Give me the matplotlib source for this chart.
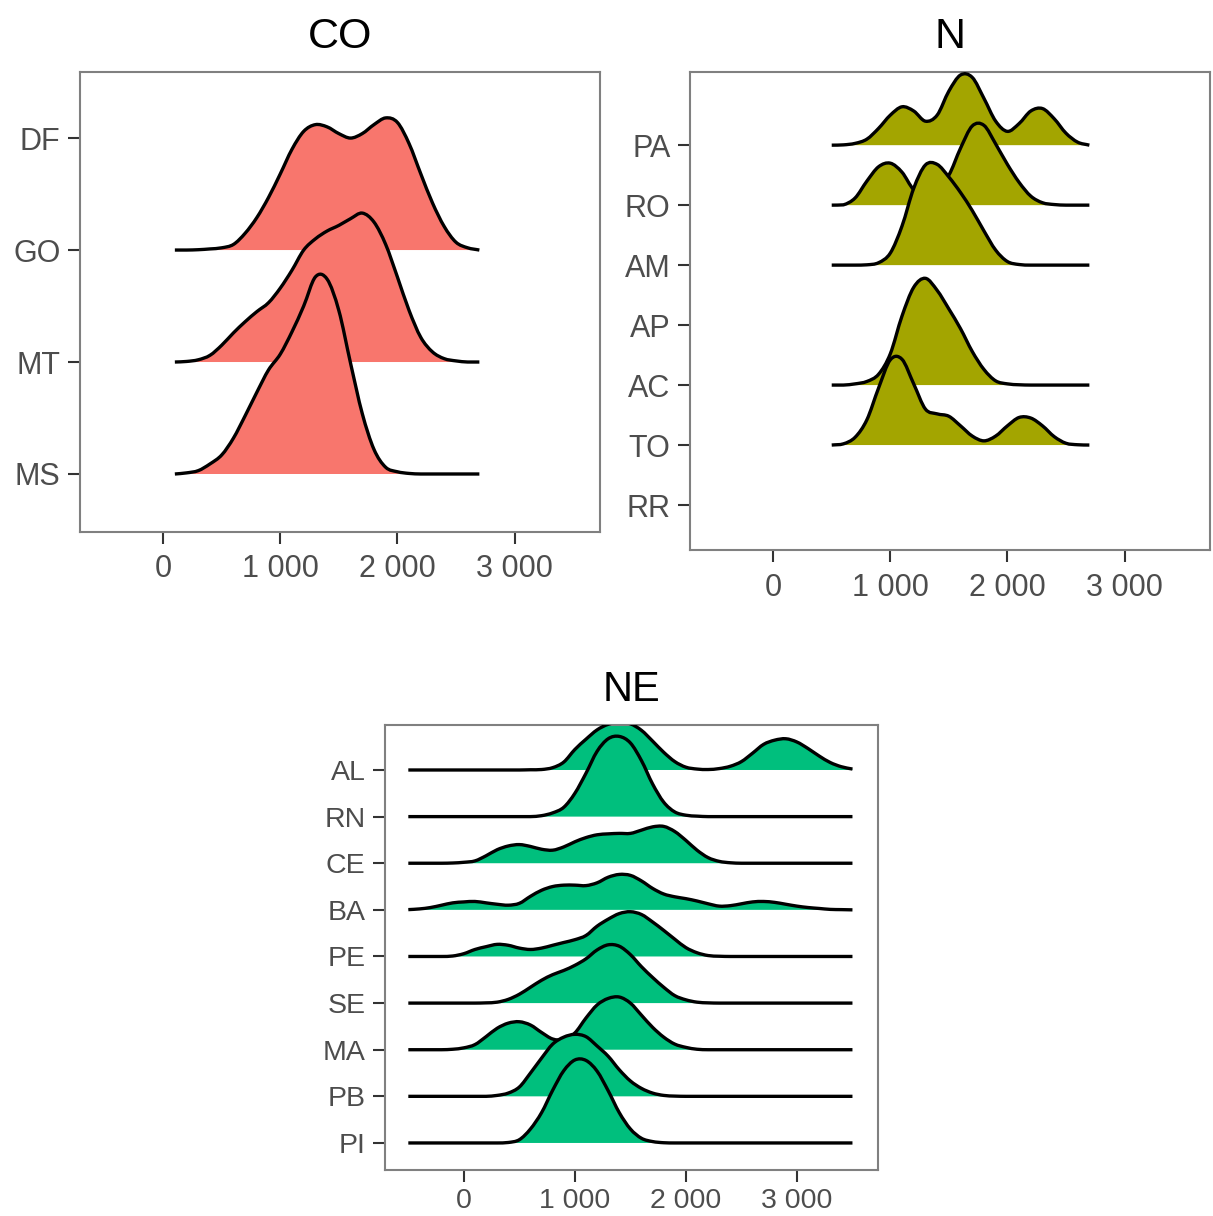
import matplotlib
matplotlib.use("Agg")
import matplotlib.pyplot as plt
from matplotlib.path import Path
from matplotlib.patches import PathPatch
import numpy as np

plt.rcParams['font.family'] = ['Liberation Sans', 'DejaVu Sans']

# ---- data: ridge heights, in units of one row ----
# CO (rows listed top to bottom, DF has no ridge)
co_rows = ['DF', 'GO', 'MT', 'MS']
co_x = [100, 200, 300, 400, 500, 600, 700, 800, 900, 1000, 1100, 1200, 1300, 1400,
        1500, 1600, 1700, 1800, 1900, 2000, 2100, 2200, 2300, 2400, 2500, 2600, 2700]
co_go = [0, 0, 0.003, 0.01, 0.02, 0.05, 0.15, 0.29, 0.47, 0.68, 0.90, 1.06, 1.12, 1.10,
         1.04, 1.00, 1.04, 1.12, 1.18, 1.14, 0.95, 0.68, 0.42, 0.21, 0.07, 0.02, 0]
co_mt = [0, 0.005, 0.02, 0.06, 0.15, 0.26, 0.36, 0.45, 0.53, 0.66, 0.82, 1.00, 1.10, 1.17,
         1.22, 1.28, 1.33, 1.25, 1.05, 0.76, 0.46, 0.22, 0.09, 0.03, 0.01, 0, 0]
co_ms = [0, 0.01, 0.03, 0.09, 0.17, 0.32, 0.52, 0.73, 0.93, 1.07, 1.27, 1.50, 1.76, 1.74,
         1.46, 0.99, 0.54, 0.22, 0.06, 0.02, 0.005, 0, 0, 0, 0, 0, 0]

# N (AP and RR have no ridge)
n_rows = ['PA', 'RO', 'AM', 'AP', 'AC', 'TO', 'RR']
n_x = [500, 600, 700, 800, 900, 1000, 1100, 1200, 1300, 1400, 1500, 1600,
       1700, 1800, 1900, 2000, 2100, 2200, 2300, 2400, 2500, 2600, 2700]
n_pa = [0, 0.005, 0.03, 0.10, 0.28, 0.50, 0.64, 0.57, 0.40, 0.50, 0.90, 1.17,
        1.13, 0.78, 0.40, 0.23, 0.36, 0.57, 0.61, 0.44, 0.20, 0.05, 0]
n_ro = [0, 0.005, 0.12, 0.40, 0.64, 0.70, 0.55, 0.26, 0.20, 0.30, 0.50, 0.95,
        1.32, 1.33, 1.02, 0.68, 0.38, 0.15, 0.04, 0.01, 0, 0, 0]
n_am = [0, 0, 0, 0.005, 0.04, 0.20, 0.65, 1.28, 1.67, 1.68, 1.47, 1.21,
        0.91, 0.57, 0.25, 0.06, 0.01, 0, 0, 0, 0, 0, 0]
n_ac = [0, 0, 0.02, 0.06, 0.18, 0.52, 1.15, 1.63, 1.78, 1.58, 1.27, 0.94,
        0.56, 0.26, 0.07, 0.02, 0.005, 0, 0, 0, 0, 0, 0]
n_to = [0, 0.02, 0.13, 0.42, 0.95, 1.42, 1.43, 1.02, 0.60, 0.52, 0.48, 0.32,
        0.15, 0.07, 0.15, 0.32, 0.46, 0.45, 0.32, 0.14, 0.03, 0.005, 0]

# NE
ne_rows = ['AL', 'RN', 'CE', 'BA', 'PE', 'SE', 'MA', 'PB', 'PI']
ne_x = [-500, -400, -300, -200, -100, 0, 100, 200, 300, 400, 500, 600, 700, 800,
        900, 1000, 1100, 1200, 1300, 1400, 1500, 1600, 1700, 1800, 1900, 2000, 2100,
        2200, 2300, 2400, 2500, 2600, 2700, 2800, 2900, 3000, 3100, 3200, 3300, 3400, 3500]
ne_al = [0] * 11 + [0.005, 0.01, 0.05, 0.17, 0.44, 0.66, 0.86, 0.98, 1.02, 0.99, 0.85,
                    0.62, 0.38, 0.18, 0.06, 0.02, 0.01, 0.03, 0.08, 0.18, 0.36, 0.55,
                    0.64, 0.67, 0.60, 0.46, 0.30, 0.16, 0.07, 0.02]
ne_rn = [0] * 12 + [0.02, 0.08, 0.20, 0.50, 0.93, 1.40, 1.67, 1.72, 1.58, 1.20, 0.70,
                    0.31, 0.10, 0.03, 0.01] + [0] * 14
ne_ce = [0] * 4 + [0.005, 0.02, 0.05, 0.16, 0.29, 0.37, 0.40, 0.36, 0.30, 0.28, 0.35,
                   0.46, 0.55, 0.61, 0.63, 0.64, 0.64, 0.71, 0.78, 0.79, 0.68, 0.49,
                   0.28, 0.12, 0.04, 0.01] + [0] * 11
ne_ba = [0.005, 0.02, 0.05, 0.10, 0.15, 0.17, 0.18, 0.15, 0.12, 0.10, 0.14, 0.29, 0.42,
         0.50, 0.53, 0.53, 0.52, 0.58, 0.70, 0.76, 0.74, 0.62, 0.46, 0.34, 0.28, 0.24,
         0.19, 0.13, 0.08, 0.09, 0.13, 0.17, 0.18, 0.16, 0.12, 0.08, 0.05, 0.03, 0.01,
         0.005, 0]
ne_pe = [0] * 4 + [0.01, 0.06, 0.15, 0.21, 0.26, 0.24, 0.18, 0.15, 0.18, 0.24, 0.30,
                   0.36, 0.45, 0.65, 0.80, 0.92, 0.96, 0.90, 0.74, 0.56, 0.37, 0.19,
                   0.08, 0.02, 0.005] + [0] * 12
ne_se = [0] * 7 + [0.005, 0.02, 0.08, 0.19, 0.34, 0.49, 0.61, 0.70, 0.81, 0.95, 1.14,
                   1.25, 1.22, 1.04, 0.78, 0.55, 0.34, 0.16, 0.07, 0.02, 0.005] + [0] * 13
ne_ma = [0] * 4 + [0.01, 0.04, 0.11, 0.28, 0.46, 0.57, 0.60, 0.53, 0.37, 0.23, 0.22,
                   0.36, 0.68, 0.96, 1.10, 1.13, 1.00, 0.74, 0.48, 0.27, 0.12, 0.05,
                   0.01] + [0] * 14
ne_pb = [0] * 8 + [0.02, 0.07, 0.20, 0.50, 0.82, 1.12, 1.27, 1.33, 1.28, 1.08, 0.86,
                   0.57, 0.33, 0.17, 0.07, 0.02, 0.005] + [0] * 16
ne_pi = [0] * 9 + [0.01, 0.07, 0.30, 0.65, 1.13, 1.55, 1.78, 1.77, 1.54, 1.12, 0.65,
                   0.30, 0.10, 0.03, 0.005] + [0] * 17

x_ticks = [0, 1000, 2000, 3000]
x_labels = ['0', '1 000', '2 000', '3 000']

co_color = '#F8766D'
n_color = '#A3A500'
ne_color = '#00BF7D'


def ridge_path(x, top, base):
    # cubic bezier segments through the read points (smooth outline)
    x = np.asarray(x, float)
    top = np.asarray(top, float)
    slope = np.gradient(top, x)
    verts = [(x[0], top[0])]
    codes = [Path.MOVETO]
    for i in range(len(x) - 1):
        d = (x[i + 1] - x[i]) / 3
        c1 = max(top[i] + slope[i] * d, base)
        c2 = max(top[i + 1] - slope[i + 1] * d, base)
        verts += [(x[i] + d, c1), (x[i + 1] - d, c2), (x[i + 1], top[i + 1])]
        codes += [Path.CURVE4] * 3
    return verts, codes


def draw_ridges(ax, rows, x, ridges, color, ylim, title,
                labelsize=22, xpad=7.3, titlesize=31):
    pos = {lab: len(rows) - i for i, lab in enumerate(rows)}
    # top rows first so lower ridges sit in front
    for k, (lab, h) in enumerate(ridges):
        base = pos[lab]
        top = base + np.asarray(h)
        verts, codes = ridge_path(x, top, base)
        area = Path(verts + [(x[-1], base), (x[0], base), (x[0], top[0])],
                    codes + [Path.LINETO, Path.LINETO, Path.CLOSEPOLY])
        ax.add_patch(PathPatch(area, facecolor=color, edgecolor='none', zorder=2 + 2 * k))
        ax.add_patch(PathPatch(Path(verts, codes), facecolor='none', edgecolor='black',
                               lw=2.4, joinstyle='round', capstyle='butt', zorder=3 + 2 * k))
    ax.set_xlim(-710, 3730)
    ax.set_ylim(*ylim)
    ax.set_yticks([pos[r] for r in rows])
    ax.set_yticklabels(rows)
    ax.set_xticks(x_ticks)
    ax.set_xticklabels(x_labels)
    ax.tick_params(axis='both', colors='#333333', labelcolor='#4D4D4D',
                   labelsize=labelsize, length=8.5, width=1.5)
    ax.tick_params(axis='y', pad=5.5)
    ax.tick_params(axis='x', pad=xpad)
    for s in ax.spines.values():
        s.set_color('#808080')
        s.set_linewidth(1.5)
    ax.set_title(title, fontsize=titlesize, color='black', pad=17)


fig = plt.figure(figsize=(12.13, 12.16), dpi=100)

ax_co = fig.add_axes([80 / 1213, 1 - 532 / 1216, 520 / 1213, 460 / 1216])
draw_ridges(ax_co, co_rows, co_x,
            [('GO', co_go), ('MT', co_mt), ('MS', co_ms)],
            co_color, (0.482, 4.59), 'CO')

ax_n = fig.add_axes([690 / 1213, 1 - 550 / 1216, 520 / 1213, 478 / 1216])
draw_ridges(ax_n, n_rows, n_x,
            [('PA', n_pa), ('RO', n_ro), ('AM', n_am), ('AC', n_ac), ('TO', n_to)],
            n_color, (0.25, 8.22), 'N', xpad=8)

ax_ne = fig.add_axes([385 / 1213, 1 - 1170 / 1216, 493 / 1213, 445 / 1216])
draw_ridges(ax_ne, ne_rows, ne_x,
            [('AL', ne_al), ('RN', ne_rn), ('CE', ne_ce), ('BA', ne_ba), ('PE', ne_pe),
             ('SE', ne_se), ('MA', ne_ma), ('PB', ne_pb), ('PI', ne_pi)],
            ne_color, (0.42, 9.965), 'NE', labelsize=20.5, xpad=4.3, titlesize=30)

fig.savefig('out.png', dpi=100)
